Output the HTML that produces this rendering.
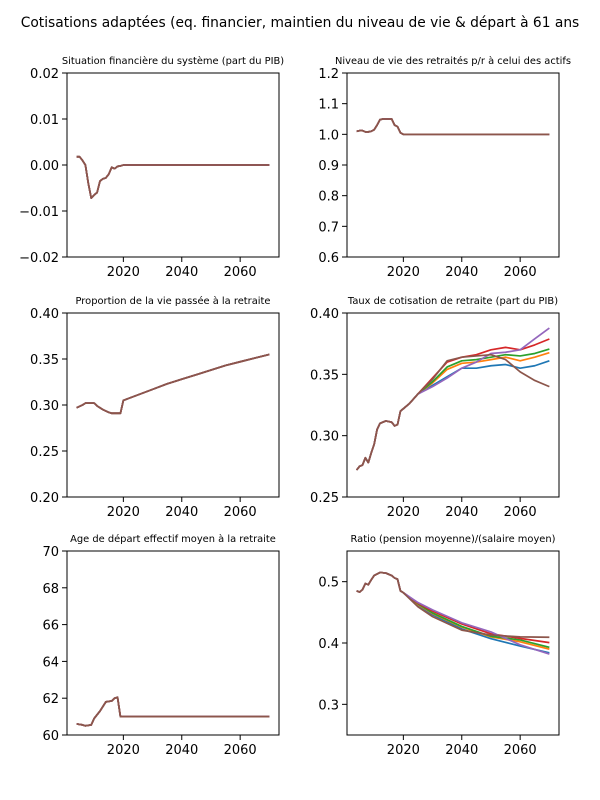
<!DOCTYPE html>
<html><head><meta charset="utf-8"><style>
body{margin:0;background:#fff}
svg{display:block;font-family:"DejaVu Sans","Liberation Sans",sans-serif}
</style></head><body>
<svg id="fig" width="600" height="800">
<text x="300" y="27" text-anchor="middle" font-size="13.8">Cotisations adaptées (eq. financier, maintien du niveau de vie &amp; départ à 61 ans</text>
</svg>
<script>
const colors=["#1f77b4","#ff7f0e","#2ca02c","#d62728","#9467bd","#8c564b"];
const xTicks=[2020,2040,2060];
// Panel 1
const finYears=[2004,2005,2006,2007,2008,2009,2010,2011,2012,2013,2014,2015,2016,2017,2018,2019,2020,2070];
const finVals=[0.0018,0.0018,0.001,0,-0.004,-0.0072,-0.0065,-0.006,-0.0035,-0.003,-0.0028,-0.002,-0.0005,-0.0008,-0.0003,-0.0002,0,0];
const finTicks=[-0.02,-0.01,0,0.01,0.02];
const finLabels=["−0.02","−0.01","0.00","0.01","0.02"];
// Panel 2
const nivYears=[2004,2005,2006,2007,2008,2009,2010,2011,2012,2013,2016,2017,2018,2019,2020,2070];
const nivVals=[1.01,1.012,1.012,1.008,1.008,1.01,1.015,1.03,1.048,1.05,1.05,1.03,1.025,1.005,1.0,1.0];
const nivTicks=[0.6,0.7,0.8,0.9,1.0,1.1,1.2];
const nivLabels=["0.6","0.7","0.8","0.9","1.0","1.1","1.2"];
// Panel 3
const propYears=[2004,2006,2007,2010,2011,2013,2015,2016,2019,2020,2025,2030,2035,2040,2045,2050,2055,2060,2065,2070];
const propVals=[0.297,0.300,0.302,0.302,0.299,0.295,0.292,0.291,0.291,0.305,0.311,0.317,0.323,0.328,0.333,0.338,0.343,0.347,0.351,0.355];
const propTicks=[0.20,0.25,0.30,0.35,0.40];
const propLabels=["0.20","0.25","0.30","0.35","0.40"];
// Panel 4
const tauxYears=[2004,2005,2006,2007,2008,2009,2010,2011,2012,2014,2016,2017,2018,2019,2020,2022,2025,2030,2035,2040,2045,2050,2055,2060,2065,2070];
const tauxCommon=[0.272,0.275,0.276,0.282,0.278,0.286,0.293,0.305,0.310,0.312,0.311,0.308,0.309,0.320,0.322,0.326,0.334];
const tauxBlue=[0.341,0.348,0.355,0.355,0.357,0.358,0.355,0.357,0.361];
const tauxOrange=[0.343,0.354,0.359,0.360,0.362,0.364,0.361,0.364,0.3676];
const tauxGreen=[0.344,0.356,0.361,0.362,0.364,0.366,0.365,0.367,0.3706];
const tauxRed=[0.347,0.360,0.364,0.366,0.370,0.372,0.370,0.374,0.3788];
const tauxPurple=[0.340,0.347,0.355,0.360,0.367,0.368,0.370,0.379,0.3877];
const tauxBrown=[0.346,0.361,0.364,0.365,0.366,0.362,0.352,0.345,0.340];
const tauxTicks=[0.25,0.30,0.35,0.40];
const tauxLabels=["0.25","0.30","0.35","0.40"];
// Panel 5
const ageYears=[2004,2006,2007,2009,2010,2012,2014,2016,2017,2018,2019,2020,2070];
const ageVals=[60.6,60.55,60.5,60.55,60.9,61.3,61.8,61.85,62.0,62.05,61.0,61.0,61.0];
const ageTicks=[60,62,64,66,68,70];
const ageLabels=["60","62","64","66","68","70"];
// Panel 6
const ratYears=[2004,2005,2006,2007,2008,2009,2010,2012,2014,2016,2017,2018,2019,2020,2025,2030,2040,2050,2060,2070];
const ratCommon=[0.485,0.483,0.487,0.497,0.495,0.503,0.510,0.515,0.514,0.510,0.506,0.504,0.485,0.482];
const ratBlue=[0.462,0.446,0.423,0.407,0.395,0.384];
const ratOrange=[0.463,0.448,0.426,0.410,0.402,0.390];
const ratGreen=[0.464,0.449,0.427,0.411,0.405,0.393];
const ratRed=[0.465,0.452,0.431,0.415,0.4075,0.4006];
const ratPurple=[0.466,0.454,0.433,0.418,0.397,0.382];
const ratBrown=[0.459,0.443,0.421,0.413,0.410,0.4094];
const ratTicks=[0.3,0.4,0.5];
const ratLabels=["0.3","0.4","0.5"];

const NS="http://www.w3.org/2000/svg";
const fig=document.getElementById('fig');
function mk(tag,attrs,parent){const e=document.createElementNS(NS,tag);for(const k in attrs)e.setAttribute(k,attrs[k]);(parent||fig).appendChild(e);return e;}
const X0=2000.7,X1=2073.3;
function panel(name,title,left,top,ymin,ymax,ticks,labels,series,years){
  const W=212,H=184;
  const g=mk('g',{});
  
  
  const xs=v=>left+(v-X0)/(X1-X0)*W;
  const ys=v=>top+H-(v-ymin)/(ymax-ymin)*H;
  const t=mk('text',{x:left+W/2,y:top-9,'text-anchor':'middle','font-size':'9.9'},g);
  t.textContent=title;
  
  
  series.forEach((s,i)=>{
    const d=s.vals.map((v,j)=>(j?'L':'M')+xs(years[j]).toFixed(2)+','+ys(v).toFixed(2)).join(' ');
    const p=mk('path',{d:d,fill:'none',stroke:s.color,'stroke-width':'1.7','stroke-linejoin':'round'},g);
    
    
  });
  const r=mk('rect',{x:left,y:top,width:W,height:H,fill:'none',stroke:'#000','stroke-width':'1'},g);
  
  
  xTicks.forEach(v=>{
    mk('line',{x1:xs(v),x2:xs(v),y1:top+H,y2:top+H+5,stroke:'#000'},g);
    const tx=mk('text',{x:xs(v),y:top+H+19,'text-anchor':'middle','font-size':'13'},g);
    tx.textContent=v;
    
    
  });
  ticks.forEach((v,i)=>{
    mk('line',{x1:left-5,x2:left,y1:ys(v),y2:ys(v),stroke:'#000'},g);
    const ty=mk('text',{x:left-8,y:ys(v)+5,'text-anchor':'end','font-size':'13'},g);
    ty.textContent=labels[i];
    
    
  });
}
function same(vals){return colors.map(c=>({color:c,vals:vals}));}
function multi(common,arrs){return arrs.map((a,i)=>({color:colors[i],vals:common.concat(a)}));}
panel('panel-situation-financiere','Situation financière du système (part du PIB)',67,73,-0.02,0.02,finTicks,finLabels,same(finVals),finYears);
panel('panel-niveau-de-vie','Niveau de vie des retraités p/r à celui des actifs',347,73,0.6,1.2,nivTicks,nivLabels,same(nivVals),nivYears);
panel('panel-proportion-retraite','Proportion de la vie passée à la retraite',67,313,0.20,0.40,propTicks,propLabels,same(propVals),propYears);
panel('panel-taux-cotisation','Taux de cotisation de retraite (part du PIB)',347,313,0.25,0.40,tauxTicks,tauxLabels,multi(tauxCommon,[tauxBlue,tauxOrange,tauxGreen,tauxRed,tauxPurple,tauxBrown]),tauxYears);
panel('panel-age-depart','Age de départ effectif moyen à la retraite',67,551,60,70,ageTicks,ageLabels,same(ageVals),ageYears);
panel('panel-ratio-pension','Ratio (pension moyenne)/(salaire moyen)',347,551,0.25,0.55,ratTicks,ratLabels,multi(ratCommon,[ratBlue,ratOrange,ratGreen,ratRed,ratPurple,ratBrown]),ratYears);
</script>
</body></html>
